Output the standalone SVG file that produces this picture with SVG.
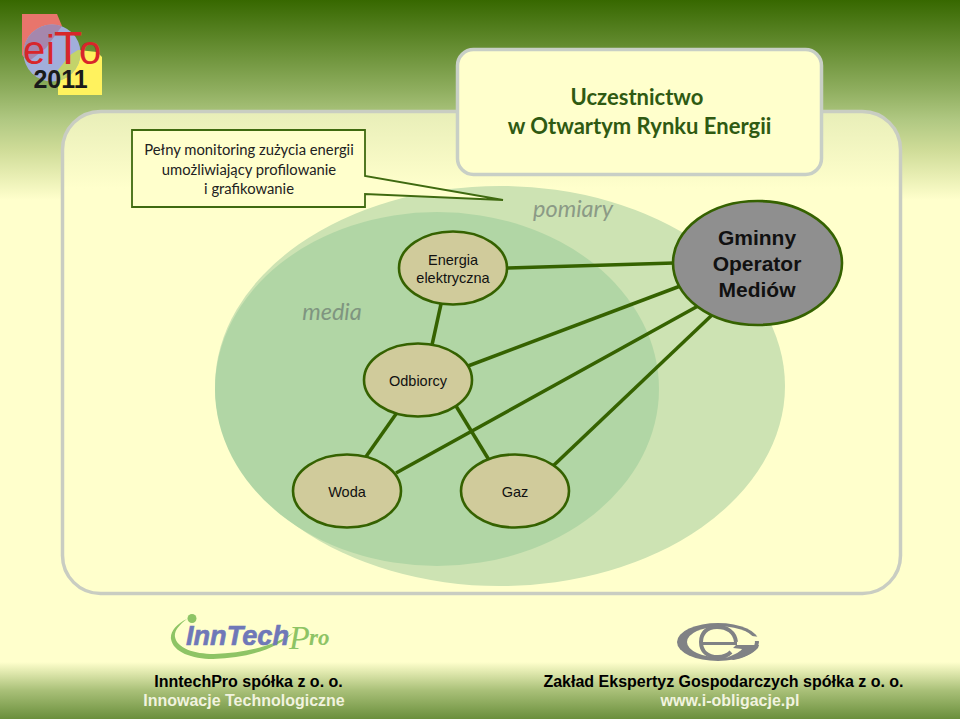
<svg xmlns="http://www.w3.org/2000/svg" width="960" height="719" viewBox="0 0 960 719">
<style>
.a{font-family:"Liberation Sans",Arial,sans-serif;text-anchor:middle;fill:#111}
.c{font-family:Lato,"Open Sans",sans-serif;text-anchor:middle}
.n{fill:#d0cb9b;stroke:#356200;stroke-width:2.600}
.l{stroke:#356200;stroke-width:3.500;fill:none}
.f{font-family:"Liberation Sans",Arial,sans-serif;text-anchor:middle;font-size:16px;font-weight:bold}
</style>
<defs>
<linearGradient id="top" x1="0" y1="0" x2="0" y2="1"><stop offset="0" stop-color="#376800"/><stop offset=".45" stop-color="#8fae5f"/><stop offset=".6" stop-color="#b0c882"/><stop offset=".75" stop-color="#cfdc98"/><stop offset="1" stop-color="#ffffcc"/></linearGradient>
<linearGradient id="bot" x1="0" y1="0" x2="0" y2="1"><stop offset="0" stop-color="#ffffcc"/><stop offset=".5" stop-color="#a9c078"/><stop offset="1" stop-color="#6a8f3c"/></linearGradient>
<linearGradient id="panel" x1="0" y1="0" x2="0" y2="1"><stop offset="0" stop-color="#e8eeb8"/><stop offset=".16" stop-color="#ffffcc"/></linearGradient>
<clipPath id="cir"><circle cx="52" cy="53" r="28.500"/></clipPath>
</defs>
<rect width="960" height="719" fill="#ffffcc"/>
<rect width="960" height="200" fill="url(#top)"/>
<rect y="662" width="960" height="57" fill="url(#bot)"/>

<g id="logo-eito">
<path id="rd" d="M22 14H57L62 26L46 48L28 62L22 55Z" fill="#e8756c"/>
<path d="M58 95V70L70 55L78 50L97 52L102 57V95Z" fill="#fff25e"/>
<circle cx="52" cy="53" r="28.500" fill="#a1aedb"/>
<g clip-path="url(#cir)">
<path d="M22 14H57L62 26L46 48L28 62L22 55Z" fill="#a587ad"/>
<path d="M58 95V70L70 55L78 50L97 52L102 57V95Z" fill="#c3d36a"/>
</g>
<text y="63.500" font-family="'Liberation Sans',sans-serif" font-size="40" fill="#d8262a"><tspan x="23">e</tspan><tspan x="46">i</tspan><tspan x="54" font-size="46">T</tspan><tspan x="79">o</tspan></text>
<text x="60.500" y="88" font-family="'Liberation Sans',sans-serif" font-size="25" font-weight="bold" text-anchor="middle" fill="#1a1a1a">2011</text>
</g>

<g id="panel-main"><rect x="62.500" y="111.500" width="838" height="482" rx="38" fill="url(#panel)" stroke="#c9cdc2" stroke-width="3.500"/></g>
<g id="area-pomiary"><ellipse cx="500" cy="386" rx="285" ry="200" fill="#cde3b3"/><text class="c" x="573" y="217" font-size="23.500" font-style="italic" fill="#8b9a86">pomiary</text></g>
<g id="area-media"><ellipse cx="437" cy="389" rx="222" ry="177" fill="#b1d6a5"/><text class="c" x="332" y="320" font-size="23.500" font-style="italic" fill="#7f9580">media</text></g>

<g id="callout"><path d="M132 130H365V176L503 200L365 194V207H132Z" fill="#ffffcc" stroke="#3f6a10" stroke-width="1.800"/>
<text class="c" font-size="14.800" fill="#222"><tspan x="249" y="155">Pełny monitoring zużycia energii</tspan><tspan x="249" y="175">umożliwiający profilowanie</tspan><tspan x="249" y="194">i grafikowanie</tspan></text></g>

<g id="box-title"><rect x="457.500" y="49.500" width="364" height="125" rx="16" fill="#ffffcc" stroke="#c8cfc6" stroke-width="3.500"/>
<text class="c" font-size="22" font-weight="bold" fill="#2f5a12"><tspan x="637" y="105">Uczestnictwo</tspan><tspan x="639.500" y="134">w Otwartym Rynku Energii</tspan></text></g>

<g id="connectors">
<path class="l" d="M507 268L674 263"/>
<path class="l" d="M441 304L432 345"/>
<path class="l" d="M468 366L683 285"/>
<path class="l" d="M396 473L698 306"/>
<path class="l" d="M553 466L712 315"/>
<path class="l" d="M396 414L365 458"/>
<path class="l" d="M456 406L489 460"/>
</g>

<g id="node-energia"><ellipse class="n" cx="453" cy="268" rx="54" ry="36.500"/><text class="a" font-size="14.500"><tspan x="453" y="265">Energia</tspan><tspan x="453" y="283">elektryczna</tspan></text></g>
<g id="node-operator"><ellipse cx="757.500" cy="263" rx="84.500" ry="62" fill="#8f8f8f" stroke="#356200" stroke-width="2.600"/><text class="a" font-size="21" font-weight="bold"><tspan x="757" y="245">Gminny</tspan><tspan x="757" y="271">Operator</tspan><tspan x="757" y="297">Mediów</tspan></text></g>
<g id="node-odbiorcy"><ellipse class="n" cx="418" cy="380" rx="54" ry="36.500"/><text class="a" x="418" y="386" font-size="14.500">Odbiorcy</text></g>
<g id="node-woda"><ellipse class="n" cx="347" cy="491" rx="54" ry="36.500"/><text class="a" x="347" y="497" font-size="14.500">Woda</text></g>
<g id="node-gaz"><ellipse class="n" cx="515" cy="491" rx="54" ry="36.500"/><text class="a" x="515" y="497" font-size="14.500">Gaz</text></g>

<g id="logo-inntech">
<path d="M187 619C176 624 170 632 171 639C173 652 192 659 213 659C250 658 278 648 294 632C276 645 248 653 214 654C194 654 177 648 175 637C174 631 179 625 187 619Z" fill="#8ec465"/>
<circle cx="192" cy="618.500" r="4.500" fill="#8ec465"/>
<text x="186" y="645" font-family="'Liberation Sans',sans-serif" font-size="27" font-weight="bold" font-style="italic" fill="#6f78b8" stroke="#6f78b8" stroke-width=".6" textLength="103" lengthAdjust="spacingAndGlyphs">InnTech</text>
<text y="645" font-family="'Liberation Serif',serif" font-style="italic" fill="#8ec465"><tspan x="289" y="649" font-size="34">P</tspan><tspan x="309" y="645" font-size="23" font-weight="bold">ro</tspan></text>
</g>
<g id="logo-eg" fill="#808285">
<ellipse cx="718" cy="642" rx="41" ry="19"/>
<ellipse cx="721" cy="642" rx="34" ry="15.500" fill="#ffffcc"/>
<path d="M735 634L760 637V641H735Z" fill="#ffffcc"/>
<path d="M736 642C735 632 727 627 717 627C706 627 701 634 701 642C701 651 707 657 718 657C723 657 727 656 731 652" fill="none" stroke="#808285" stroke-width="4"/>
<path d="M703 642H737V645H703Z"/>
<path d="M736 645H759L758 648C752 654 744 658 733 660L728 657C736 654 741 651 742 649L733 648Z"/>
</g>

<g id="footer">
<text class="f" x="248.500" y="687" fill="#000">InntechPro spółka z o. o.</text>
<text class="f" x="244" y="706" fill="#f1f3df">Innowacje Technologiczne</text>
<text class="f" x="723.500" y="687" fill="#000">Zakład Ekspertyz Gospodarczych spółka z o. o.</text>
<text class="f" x="730" y="706" fill="#f1f3df">www.i-obligacje.pl</text>
</g>
</svg>
